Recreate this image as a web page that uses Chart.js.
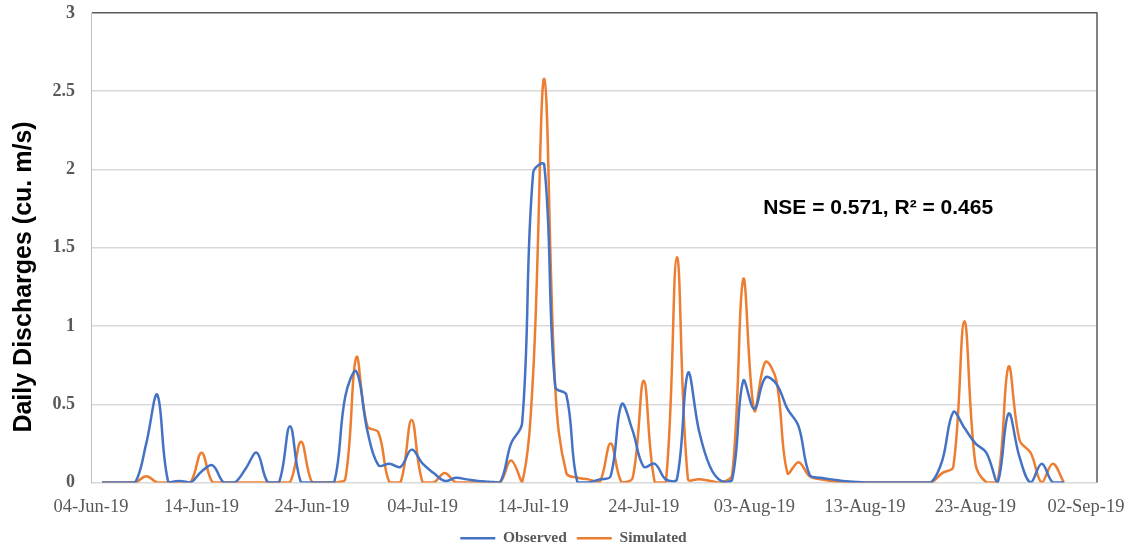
<!DOCTYPE html>
<html><head><meta charset="utf-8">
<script src="https://cdn.jsdelivr.net/npm/chart.js@4.4.1/dist/chart.umd.min.js"></script>
<style>html,body{margin:0;padding:0;background:#fff;}#wrap{width:1130px;height:547px;}</style>
</head><body><div id="wrap"><canvas id="c" width="1130" height="547"></canvas></div>
<script>
// ---- data ----
const xTickDays = [0, 10, 20, 30, 40, 50, 60, 70, 80, 90];
const xTickLabels = ['04-Jun-19', '14-Jun-19', '24-Jun-19', '04-Jul-19', '14-Jul-19', '24-Jul-19', '03-Aug-19', '13-Aug-19', '23-Aug-19', '02-Sep-19'];
const yTicks = [0, 0.5, 1, 1.5, 2, 2.5, 3];
const seriesNames = ['Observed', 'Simulated'];
const firstDay = 1; // 05-Jun-19 (days after 04-Jun-19)
const observed = [
  0, 0, 0, 0, 0.25, 0.56, 0, 0.01, 0, 0.07,
  0.11, 0, 0, 0.09, 0.19, 0, 0, 0.36, 0, 0,
  0, 0, 0.55, 0.71, 0.33, 0.11, 0.12, 0.10, 0.21, 0.12,
  0.06, 0.01, 0.03, 0.02, 0.01, 0.005, 0, 0.25, 0.38, 1.98,
  2.03, 0.61, 0.56, 0, 0, 0.02, 0.04, 0.50, 0.33, 0.10,
  0.12, 0.02, 0.02, 0.70, 0.33, 0.10, 0.01, 0.02, 0.65, 0.47,
  0.67, 0.63, 0.47, 0.36, 0.05, 0.03, 0.02, 0.01, 0.005, 0,
  0, 0, 0, 0, 0, 0, 0.14, 0.45, 0.35, 0.25,
  0.19, 0, 0.44, 0.16, 0, 0.12, 0, 0
];
const simulated = [
  0, 0, 0, 0, 0.04, 0, 0, 0, 0, 0.19,
  0, 0, 0, 0, 0, 0, 0, 0, 0.26, 0,
  0, 0, 0.02, 0.80, 0.36, 0.32, 0, 0, 0.40, 0,
  0, 0.06, 0, 0, 0, 0, 0, 0.14, 0, 0.70,
  2.58, 0.60, 0.06, 0.03, 0.02, 0, 0.25, 0, 0.03, 0.65,
  0, 0, 1.44, 0.02, 0.02, 0.01, 0, 0.05, 1.30, 0.46,
  0.77, 0.65, 0.06, 0.13, 0.04, 0.02, 0.01, 0, 0, 0,
  0, 0, 0, 0, 0, 0, 0.06, 0.10, 1.03, 0.12,
  0, 0, 0.74, 0.27, 0.19, 0, 0.12, 0
];
const yTitle = 'Daily Discharges (cu. m/s)';
const statsText = 'NSE = 0.571, R\u00B2 = 0.465';
const statsPos = { day: 60.8, value: 1.75 };

// ---- chart ----
const serif = '"Liberation Serif", "Times New Roman", serif';
const sans = '"Liberation Sans", Arial, sans-serif';
const toPoints = arr => arr.map((v, i) => ({ x: firstDay + i, y: v }));

const annot = {
  id: 'annot',
  afterDraw(chart) {
    const { ctx, chartArea: a, scales } = chart;
    ctx.save();
    ctx.strokeStyle = '#595959';
    ctx.lineWidth = 1.5;
    ctx.beginPath();
    ctx.moveTo(a.right, a.top - 0.75);
    ctx.lineTo(a.right, a.bottom);
    ctx.stroke();
    ctx.restore();

    ctx.save();
    ctx.fillStyle = '#000';
    ctx.font = 'bold 25px ' + sans;
    ctx.textAlign = 'center';
    ctx.textBaseline = 'middle';
    ctx.translate(24, 277);
    ctx.rotate(-Math.PI / 2);
    ctx.fillText(yTitle, 0, 0);
    ctx.restore();

    ctx.save();
    ctx.fillStyle = '#000';
    ctx.font = 'bold 21px ' + sans;
    ctx.textAlign = 'left';
    ctx.textBaseline = 'middle';
    ctx.fillText(statsText, scales.x.getPixelForValue(statsPos.day), scales.y.getPixelForValue(statsPos.value));
    ctx.restore();
  }
};

new Chart(document.getElementById('c'), {
  type: 'line',
  data: {
    datasets: [
      { label: seriesNames[0], data: toPoints(observed), borderColor: '#4472C4', backgroundColor: '#4472C4',
        borderWidth: 2.5, pointRadius: 0, pointStyle: 'line', tension: 0.38, fill: false },
      { label: seriesNames[1], data: toPoints(simulated), borderColor: '#ED7D31', backgroundColor: '#ED7D31',
        borderWidth: 2.5, pointRadius: 0, pointStyle: 'line', tension: 0.38, fill: false }
    ]
  },
  options: {
    responsive: false,
    animation: false,
    devicePixelRatio: 1,
    layout: { padding: { left: 50, right: 33, top: 13, bottom: -9 } },
    plugins: {
      legend: {
        position: 'bottom',
        labels: {
          usePointStyle: true, pointStyleWidth: 35, padding: 10, color: '#595959',
          font: { family: serif, weight: 'bold', size: 15.5 }
        }
      },
      tooltip: { enabled: false }
    },
    scales: {
      x: {
        type: 'linear', min: 0, max: 91,
        afterBuildTicks: s => { s.ticks = xTickDays.map(v => ({ value: v })); },
        afterFit: s => { s.height = 38; s.paddingLeft = 0; s.paddingRight = 0; },
        ticks: {
          autoSkip: false, maxRotation: 0, minRotation: 0, padding: 14, color: '#595959',
          font: { family: serif, size: 18.5 },
          callback: v => { const i = xTickDays.indexOf(v); return i >= 0 ? xTickLabels[i] : ''; }
        },
        grid: { display: false, drawTicks: false },
        border: { display: false }
      },
      y: {
        min: 0, max: 3,
        afterBuildTicks: s => { s.ticks = yTicks.map(v => ({ value: v })); },
        afterFit: s => { s.width = 41; s.paddingTop = 0; s.paddingBottom = 0; },
        ticks: {
          padding: 16, color: '#595959',
          font: { family: serif, weight: 'bold', size: 18 },
          callback: v => String(v)
        },
        grid: {
          color: c => (c.tick && c.tick.value === 3) ? '#595959' : '#d9d9d9',
          lineWidth: 1.5, drawTicks: false
        },
        border: { color: '#bfbfbf', width: 1 }
      }
    }
  },
  plugins: [annot]
});
</script></body></html>
